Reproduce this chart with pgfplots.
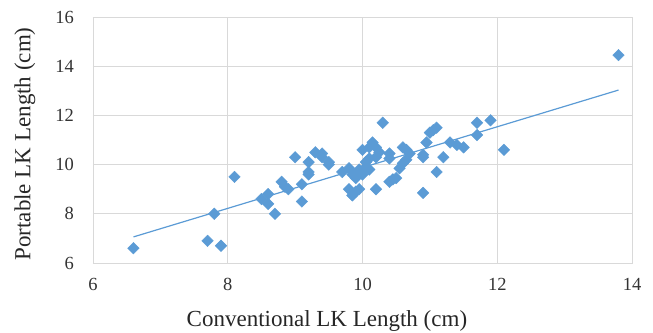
\documentclass[border=0pt]{standalone}
\usepackage{fontspec}
\setmainfont{Liberation Serif}
\usepackage{pgfplots}
\pgfplotsset{compat=1.18}
\definecolor{mk}{HTML}{5B9BD5}
\definecolor{gridc}{HTML}{D9D9D9}
\begin{document}
\begin{tikzpicture}
\path[use as bounding box] (-93bp,-70bp) rectangle (560bp,263bp);
\begin{axis}[
  at={(0,0)}, anchor=south west,
  scale only axis, width=539bp, height=246bp,
  xmin=6, xmax=14, ymin=6, ymax=16,
  xtick={6,8,10,12,14}, ytick={6,8,10,12,14,16},
  grid=major, major grid style={draw=gridc, line width=0.9bp},
  axis line style={draw=gridc, line width=0.9bp},
  major tick length=0pt,
  /pgf/number format/assume math mode=true,
  tick label style={font=\fontsize{18.5bp}{20bp}\selectfont, text=black!80},
  yticklabel style={anchor=east, inner sep=0pt, xshift=-19bp},
  xticklabel style={anchor=north, inner sep=0pt, yshift=-15bp},
  label style={font=\fontsize{23bp}{26bp}\selectfont, text=black!85},
  xlabel={Conventional LK Length (cm)},
  ylabel={Portable LK Length (cm)},
  xlabel style={at={(axis description cs:0.434,-0.258)}, anchor=base, inner sep=0pt},
  ylabel style={at={(axis description cs:-0.1262,0.484)}, anchor=center, inner sep=0pt},
]
\addplot[only marks, mark=square*, mark size=4.1bp, mark options={rotate=45, fill=mk, draw=mk}] coordinates {
(6.6,6.6) (7.7,6.9) (7.9,6.7) (7.8,8.0) (8.1,9.5)
(8.5,8.6) (8.6,8.8) (8.6,8.4) (8.7,8.0) (8.8,9.3) (8.85,9.1) (8.9,9.0)
(9.0,10.3) (9.1,9.2) (9.1,8.5) (9.2,10.1) (9.2,9.7) (9.2,9.6)
(9.3,10.5) (9.4,10.45) (9.4,10.3) (9.5,10.1) (9.5,10.0)
(9.7,9.7) (9.8,9.85) (9.85,9.6) (9.9,9.45) (9.95,9.7)
(9.8,9.0) (9.85,8.75) (9.9,8.9) (9.95,9.0)
(10.0,9.6) (9.95,9.8) (10.05,10.1)
(10.0,10.6) (10.1,10.7) (10.15,10.9) (10.2,10.7) (10.25,10.5) (10.2,10.3)
(10.3,11.7) (10.1,10.25) (10.05,9.9) (10.1,9.8) (10.2,9.0)
(10.4,10.45) (10.4,10.25) (10.4,9.3) (10.45,9.4) (10.5,9.45)
(10.6,10.7) (10.65,10.6) (10.7,10.45) (10.65,10.2) (10.6,10.05) (10.55,9.85)
(10.9,10.3) (10.9,10.4) (10.9,8.85) (11.1,9.7) (11.2,10.3)
(11.0,11.3) (11.05,11.4) (11.1,11.5) (10.95,10.9)
(11.3,10.9) (11.4,10.8) (11.5,10.7)
(11.7,11.7) (11.9,11.8) (11.7,11.2) (12.1,10.6) (13.8,14.45)
};
\addplot[mk, line width=1.2bp] coordinates {(6.6,7.06) (13.8,13.03)};
\end{axis}
\end{tikzpicture}
\end{document}
